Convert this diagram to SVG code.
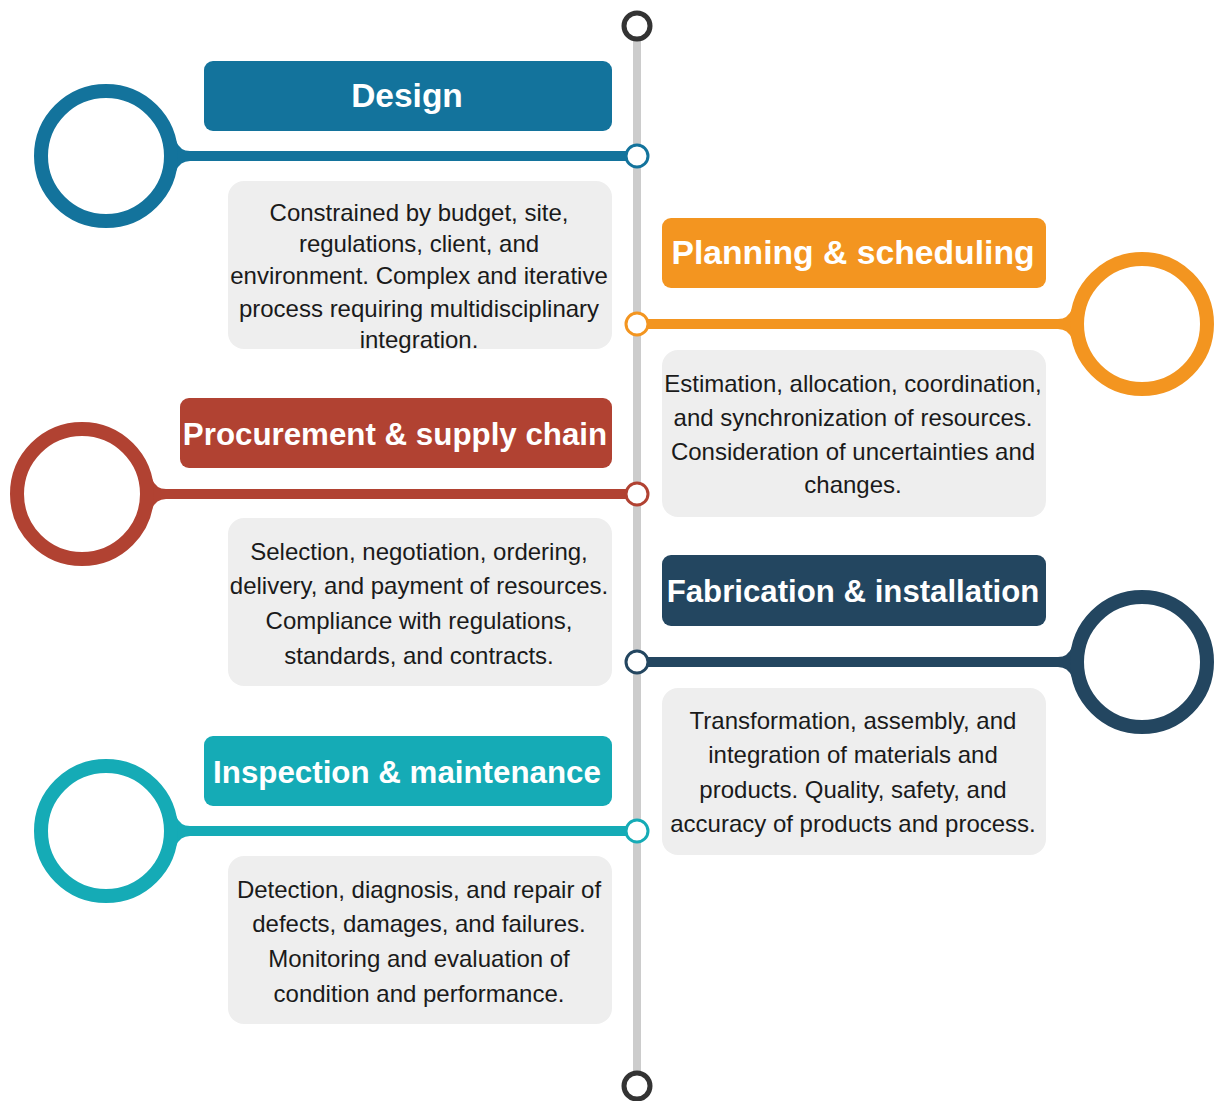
<svg xmlns="http://www.w3.org/2000/svg" width="1214" height="1101" viewBox="0 0 1214 1101">
<style>
.title{font-family:"Liberation Sans",Arial,sans-serif;font-weight:bold;font-size:32px;fill:#ffffff;text-anchor:middle}
.body{font-family:"Liberation Sans",Arial,sans-serif;font-size:24px;fill:#1a1a1a;text-anchor:middle}
.desc{fill:#eeeeee}
.ring{fill:none;stroke-width:14}
.dot{fill:#ffffff;stroke-width:3}
</style>
<rect width="1214" height="1101" fill="#ffffff"/>
<g id="timeline">
<line x1="637" y1="38" x2="637" y2="1074" stroke="#cccccc" stroke-width="8"/>
<circle cx="637" cy="26" r="13" fill="#ffffff" stroke="#333333" stroke-width="5"/>
<circle cx="637" cy="1086" r="13" fill="#ffffff" stroke="#333333" stroke-width="5"/>
</g>
<g id="connectors">
<g fill="#13739c"><rect x="176" y="151" width="461" height="10"/><path d="M176,141 Q180,151 190,151 L190,161 Q180,161 176,171 Z"/></g>
<g fill="#f39520"><rect x="637" y="319" width="436" height="10"/><path d="M1072,309 Q1068,319 1058,319 L1058,329 Q1068,329 1072,339 Z"/></g>
<g fill="#b14232"><rect x="152" y="489" width="485" height="10"/><path d="M152,479 Q156,489 166,489 L166,499 Q156,499 152,509 Z"/></g>
<g fill="#234660"><rect x="637" y="657" width="436" height="10"/><path d="M1072,647 Q1068,657 1058,657 L1058,667 Q1068,667 1072,677 Z"/></g>
<g fill="#15abb6"><rect x="176" y="826" width="461" height="10"/><path d="M176,816 Q180,826 190,826 L190,836 Q180,836 176,846 Z"/></g>
<circle class="dot" cx="637" cy="156" r="11" stroke="#13739c"/>
<circle class="dot" cx="637" cy="324" r="11" stroke="#f39520"/>
<circle class="dot" cx="637" cy="494" r="11" stroke="#b14232"/>
<circle class="dot" cx="637" cy="662" r="11" stroke="#234660"/>
<circle class="dot" cx="637" cy="831" r="11" stroke="#15abb6"/>
</g>
<g id="design">
<circle class="ring" cx="106" cy="156" r="65" stroke="#13739c"/>
<rect x="204" y="61" width="408" height="70" rx="9" fill="#13739c"/>
<text class="title" x="407" y="107" style="font-size:33.5px">Design</text>
<rect class="desc" x="228" y="181" width="384" height="168" rx="16"/>
<text class="body" x="419" y="221">Constrained by budget, site,</text>
<text class="body" x="419" y="252">regulations, client, and</text>
<text class="body" x="419" y="284">environment. Complex and iterative</text>
<text class="body" x="419" y="317">process requiring multidisciplinary</text>
<text class="body" x="419" y="348">integration.</text>
</g>
<g id="planning">
<circle class="ring" cx="1142" cy="324" r="65" stroke="#f39520"/>
<rect x="662" y="218" width="384" height="70" rx="9" fill="#f39520"/>
<text class="title" x="853" y="264" style="font-size:33.7px">Planning &amp; scheduling</text>
<rect class="desc" x="662" y="350" width="384" height="167" rx="16"/>
<text class="body" x="853" y="392">Estimation, allocation, coordination,</text>
<text class="body" x="853" y="426">and synchronization of resources.</text>
<text class="body" x="853" y="460">Consideration of uncertainties and</text>
<text class="body" x="853" y="493">changes.</text>
</g>
<g id="procurement">
<circle class="ring" cx="82" cy="494" r="65" stroke="#b14232"/>
<rect x="180" y="398" width="432" height="70" rx="9" fill="#b14232"/>
<text class="title" x="395" y="445" style="font-size:31.3px">Procurement &amp; supply chain</text>
<rect class="desc" x="228" y="518" width="384" height="168" rx="16"/>
<text class="body" x="419" y="560">Selection, negotiation, ordering,</text>
<text class="body" x="419" y="594">delivery, and payment of resources.</text>
<text class="body" x="419" y="629">Compliance with regulations,</text>
<text class="body" x="419" y="664">standards, and contracts.</text>
</g>
<g id="fabrication">
<circle class="ring" cx="1142" cy="662" r="65" stroke="#234660"/>
<rect x="662" y="555" width="384" height="71" rx="9" fill="#234660"/>
<text class="title" x="853" y="602" style="font-size:31.2px">Fabrication &amp; installation</text>
<rect class="desc" x="662" y="688" width="384" height="167" rx="16"/>
<text class="body" x="853" y="729">Transformation, assembly, and</text>
<text class="body" x="853" y="763">integration of materials and</text>
<text class="body" x="853" y="798">products. Quality, safety, and</text>
<text class="body" x="853" y="832">accuracy of products and process.</text>
</g>
<g id="inspection">
<circle class="ring" cx="106" cy="831" r="65" stroke="#15abb6"/>
<rect x="204" y="736" width="408" height="70" rx="9" fill="#15abb6"/>
<text class="title" x="407" y="783" style="font-size:31.3px">Inspection &amp; maintenance</text>
<rect class="desc" x="228" y="856" width="384" height="168" rx="16"/>
<text class="body" x="419" y="898">Detection, diagnosis, and repair of</text>
<text class="body" x="419" y="932">defects, damages, and failures.</text>
<text class="body" x="419" y="967">Monitoring and evaluation of</text>
<text class="body" x="419" y="1002">condition and performance.</text>
</g>
</svg>
